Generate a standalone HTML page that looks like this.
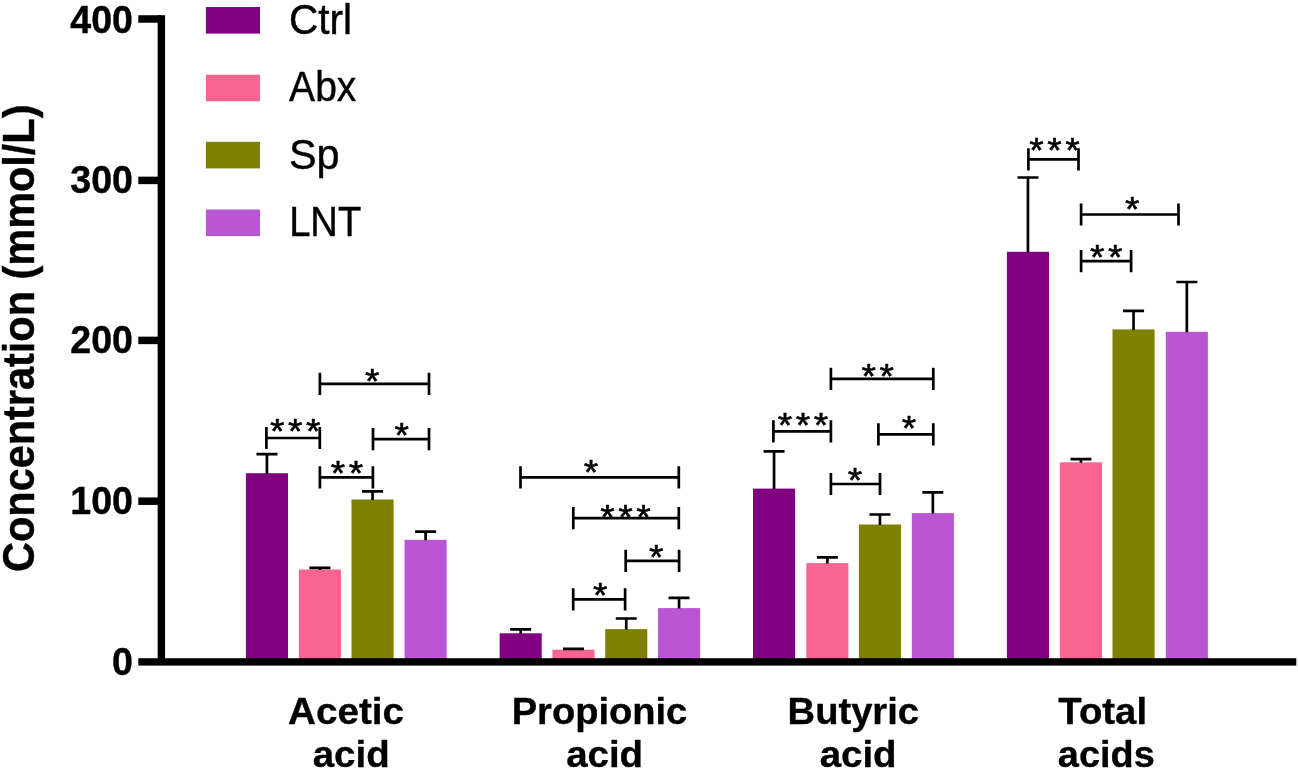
<!DOCTYPE html>
<html lang="en"><head><meta charset="utf-8"><title>SCFA concentration chart</title>
<style>html,body{margin:0;padding:0;background:#fff}body{width:1298px;height:770px;overflow:hidden}svg{display:block;will-change:transform}text{font-family:"Liberation Sans",Arial,Helvetica,sans-serif;fill:#000}</style></head><body>
<svg width="1298" height="770" viewBox="0 0 1298 770">
<rect width="1298" height="770" fill="#fff"/>
<g>
<rect x="245.90" y="473.20" width="42.10" height="185.85" fill="#800080"/>
<rect x="298.85" y="569.50" width="42.10" height="89.55" fill="#F96593"/>
<rect x="351.50" y="499.50" width="42.10" height="159.55" fill="#808000"/>
<rect x="404.55" y="539.80" width="42.10" height="119.25" fill="#BA55D3"/>
<rect x="499.65" y="633.30" width="42.10" height="25.75" fill="#800080"/>
<rect x="552.40" y="649.70" width="42.10" height="9.35" fill="#F96593"/>
<rect x="605.20" y="629.10" width="42.10" height="29.95" fill="#808000"/>
<rect x="658.00" y="608.10" width="42.10" height="50.95" fill="#BA55D3"/>
<rect x="753.00" y="488.60" width="42.10" height="170.45" fill="#800080"/>
<rect x="806.30" y="563.10" width="42.10" height="95.95" fill="#F96593"/>
<rect x="858.90" y="524.50" width="42.10" height="134.55" fill="#808000"/>
<rect x="911.80" y="513.10" width="42.10" height="145.95" fill="#BA55D3"/>
<rect x="1006.90" y="251.80" width="42.10" height="407.25" fill="#800080"/>
<rect x="1059.90" y="462.30" width="42.10" height="196.75" fill="#F96593"/>
<rect x="1112.50" y="329.40" width="42.10" height="329.65" fill="#808000"/>
<rect x="1165.80" y="331.80" width="42.10" height="327.25" fill="#BA55D3"/>
</g>
<g stroke="#000" stroke-width="2.7" fill="none">
<path d="M266.95 473.70V454.20M256.45 454.20H277.45"/>
<path d="M319.90 570.00V567.90M309.40 567.90H330.40"/>
<path d="M372.55 500.00V491.40M362.05 491.40H383.05"/>
<path d="M425.60 540.30V531.60M415.10 531.60H436.10"/>
<path d="M520.70 633.80V629.30M510.20 629.30H531.20"/>
<path d="M573.45 650.20V648.90M562.95 648.90H583.95"/>
<path d="M626.25 629.60V618.50M615.75 618.50H636.75"/>
<path d="M679.05 608.60V597.90M668.55 597.90H689.55"/>
<path d="M774.05 489.10V451.30M763.55 451.30H784.55"/>
<path d="M827.35 563.60V557.30M816.85 557.30H837.85"/>
<path d="M879.95 525.00V514.50M869.45 514.50H890.45"/>
<path d="M932.85 513.60V492.40M922.35 492.40H943.35"/>
<path d="M1027.95 252.30V177.50M1017.45 177.50H1038.45"/>
<path d="M1080.95 462.80V459.20M1070.45 459.20H1091.45"/>
<path d="M1133.55 329.90V310.80M1123.05 310.80H1144.05"/>
<path d="M1186.85 332.30V282.00M1176.35 282.00H1197.35"/>
</g>
<g stroke="#000" stroke-width="2.7" fill="none">
<path d="M266.40 438.00H319.80M266.40 426.90V449.10M319.80 426.90V449.10"/>
<path d="M319.90 477.40H372.90M319.90 466.30V488.50M372.90 466.30V488.50"/>
<path d="M319.90 383.80H429.00M319.90 372.70V394.90M429.00 372.70V394.90"/>
<path d="M373.00 439.10H429.00M373.00 428.00V450.20M429.00 428.00V450.20"/>
<path d="M520.50 477.30H678.80M520.50 466.20V488.40M678.80 466.20V488.40"/>
<path d="M573.30 518.10H678.80M573.30 507.00V529.20M678.80 507.00V529.20"/>
<path d="M625.70 560.80H679.10M625.70 549.70V571.90M679.10 549.70V571.90"/>
<path d="M573.20 599.30H625.10M573.20 588.20V610.40M625.10 588.20V610.40"/>
<path d="M773.40 431.40H830.90M773.40 420.30V442.50M830.90 420.30V442.50"/>
<path d="M830.90 378.90H933.30M830.90 367.80V390.00M933.30 367.80V390.00"/>
<path d="M878.40 434.30H933.30M878.40 423.20V445.40M933.30 423.20V445.40"/>
<path d="M830.90 484.00H880.00M830.90 472.90V495.10M880.00 472.90V495.10"/>
<path d="M1028.40 159.40H1078.50M1028.40 148.30V170.50M1078.50 148.30V170.50"/>
<path d="M1081.10 214.50H1178.50M1081.10 203.40V225.60M1178.50 203.40V225.60"/>
<path d="M1081.10 261.10H1131.10M1081.10 250.00V272.20M1131.10 250.00V272.20"/>
</g>
<g>
<text transform="translate(269.98 443.35) scale(1.085 1)" font-size="34.2" stroke="#000" stroke-width="0.55" stroke-linejoin="round" letter-spacing="3.325">***</text>
<text transform="translate(330.68 485.05) scale(1.085 1)" font-size="34.2" stroke="#000" stroke-width="0.55" stroke-linejoin="round" letter-spacing="3.325">**</text>
<text transform="translate(364.98 392.55) scale(1.085 1)" font-size="34.2" stroke="#000" stroke-width="0.55" stroke-linejoin="round" letter-spacing="3.325">*</text>
<text transform="translate(394.58 446.55) scale(1.085 1)" font-size="34.2" stroke="#000" stroke-width="0.55" stroke-linejoin="round" letter-spacing="3.325">*</text>
<text transform="translate(583.78 484.25) scale(1.085 1)" font-size="34.2" stroke="#000" stroke-width="0.55" stroke-linejoin="round" letter-spacing="3.325">*</text>
<text transform="translate(600.28 529.25) scale(1.085 1)" font-size="34.2" stroke="#000" stroke-width="0.55" stroke-linejoin="round" letter-spacing="3.325">***</text>
<text transform="translate(648.98 569.15) scale(1.085 1)" font-size="34.2" stroke="#000" stroke-width="0.55" stroke-linejoin="round" letter-spacing="3.325">*</text>
<text transform="translate(592.88 607.15) scale(1.085 1)" font-size="34.2" stroke="#000" stroke-width="0.55" stroke-linejoin="round" letter-spacing="3.325">*</text>
<text transform="translate(777.78 436.55) scale(1.085 1)" font-size="34.2" stroke="#000" stroke-width="0.55" stroke-linejoin="round" letter-spacing="3.325">***</text>
<text transform="translate(861.48 387.85) scale(1.085 1)" font-size="34.2" stroke="#000" stroke-width="0.55" stroke-linejoin="round" letter-spacing="3.325">**</text>
<text transform="translate(901.78 440.25) scale(1.085 1)" font-size="34.2" stroke="#000" stroke-width="0.55" stroke-linejoin="round" letter-spacing="3.325">*</text>
<text transform="translate(847.68 492.05) scale(1.085 1)" font-size="34.2" stroke="#000" stroke-width="0.55" stroke-linejoin="round" letter-spacing="3.325">*</text>
<text transform="translate(1029.28 162.45) scale(1.085 1)" font-size="34.2" stroke="#000" stroke-width="0.55" stroke-linejoin="round" letter-spacing="3.325">***</text>
<text transform="translate(1124.98 221.25) scale(1.085 1)" font-size="34.2" stroke="#000" stroke-width="0.55" stroke-linejoin="round" letter-spacing="3.325">*</text>
<text transform="translate(1089.88 269.35) scale(1.085 1)" font-size="34.2" stroke="#000" stroke-width="0.55" stroke-linejoin="round" letter-spacing="3.325">**</text>
</g>
<g fill="#000">
<rect x="157.65" y="15.20" width="7.40" height="648.80"/>
<rect x="138.30" y="658.20" width="1158.00" height="7.40"/>
<rect x="138.3" y="15.21" width="23.05" height="7.50"/>
<rect x="138.3" y="176.65" width="23.05" height="7.50"/>
<rect x="138.3" y="336.65" width="23.05" height="7.50"/>
<rect x="138.3" y="497.45" width="23.05" height="7.50"/>
</g>
<g>
<text transform="translate(133.00 33.00) scale(1.005 1.026)" font-size="37.4" text-anchor="end" font-weight="700" stroke="#000" stroke-width="0.4" stroke-linejoin="round">400</text>
<text transform="translate(133.00 193.00) scale(1.005 1.026)" font-size="37.4" text-anchor="end" font-weight="700" stroke="#000" stroke-width="0.4" stroke-linejoin="round">300</text>
<text transform="translate(133.00 353.30) scale(1.005 1.026)" font-size="37.4" text-anchor="end" font-weight="700" stroke="#000" stroke-width="0.4" stroke-linejoin="round">200</text>
<text transform="translate(133.00 514.40) scale(1.005 1.026)" font-size="37.4" text-anchor="end" font-weight="700" stroke="#000" stroke-width="0.4" stroke-linejoin="round">100</text>
<text transform="translate(133.00 675.00) scale(1.005 1.026)" font-size="37.4" text-anchor="end" font-weight="700" stroke="#000" stroke-width="0.4" stroke-linejoin="round">0</text>
</g>
<text transform="translate(33.50 338.25) rotate(-90) scale(1 1.06)" font-size="41.45" text-anchor="middle" font-weight="700" stroke="#000" stroke-width="0.4" stroke-linejoin="round">Concentration (mmol/L)</text>
<g>
<text transform="translate(346.05 723.70) scale(1.02 0.98)" font-size="37.9" text-anchor="middle" font-weight="700" stroke="#000" stroke-width="0.35" stroke-linejoin="round">Acetic</text>
<text transform="translate(351.15 766.85) scale(1.015 0.955)" font-size="37.9" text-anchor="middle" font-weight="700" stroke="#000" stroke-width="0.35" stroke-linejoin="round">acid</text>
<text transform="translate(599.50 723.70) scale(1.005 0.98)" font-size="37.9" text-anchor="middle" font-weight="700" stroke="#000" stroke-width="0.35" stroke-linejoin="round">Propionic</text>
<text transform="translate(604.60 766.85) scale(1.015 0.955)" font-size="37.9" text-anchor="middle" font-weight="700" stroke="#000" stroke-width="0.35" stroke-linejoin="round">acid</text>
<text transform="translate(853.30 723.70) scale(1.007 0.98)" font-size="37.9" text-anchor="middle" font-weight="700" stroke="#000" stroke-width="0.35" stroke-linejoin="round">Butyric</text>
<text transform="translate(858.10 766.85) scale(1.015 0.955)" font-size="37.9" text-anchor="middle" font-weight="700" stroke="#000" stroke-width="0.35" stroke-linejoin="round">acid</text>
<text transform="translate(1102.70 723.70) scale(1.012 0.98)" font-size="37.9" text-anchor="middle" font-weight="700" stroke="#000" stroke-width="0.35" stroke-linejoin="round">Total</text>
<text transform="translate(1106.30 766.85) scale(1 0.955)" font-size="37.9" text-anchor="middle" font-weight="700" stroke="#000" stroke-width="0.35" stroke-linejoin="round">acids</text>
</g>
<g>
<rect x="205.9" y="7.00" width="54.1" height="26.6" fill="#800080"/>
<text transform="translate(289.04 33.50) scale(1.03 1.085)" font-size="39.4" stroke="#000" stroke-width="0.4" stroke-linejoin="round">Ctrl</text>
<rect x="205.9" y="74.70" width="54.1" height="26.6" fill="#F96593"/>
<text transform="translate(289.12 101.25) scale(0.99 1.085)" font-size="39.4" stroke="#000" stroke-width="0.4" stroke-linejoin="round">Abx</text>
<rect x="205.9" y="141.80" width="54.1" height="26.6" fill="#808000"/>
<text transform="translate(289.00 168.90) scale(1.05 1.085)" font-size="39.4" stroke="#000" stroke-width="0.4" stroke-linejoin="round">Sp</text>
<rect x="205.9" y="209.50" width="54.1" height="26.6" fill="#BA55D3"/>
<text transform="translate(289.16 235.95) scale(0.968 1.085)" font-size="39.4" stroke="#000" stroke-width="0.4" stroke-linejoin="round">LNT</text>
</g>
</svg></body></html>
